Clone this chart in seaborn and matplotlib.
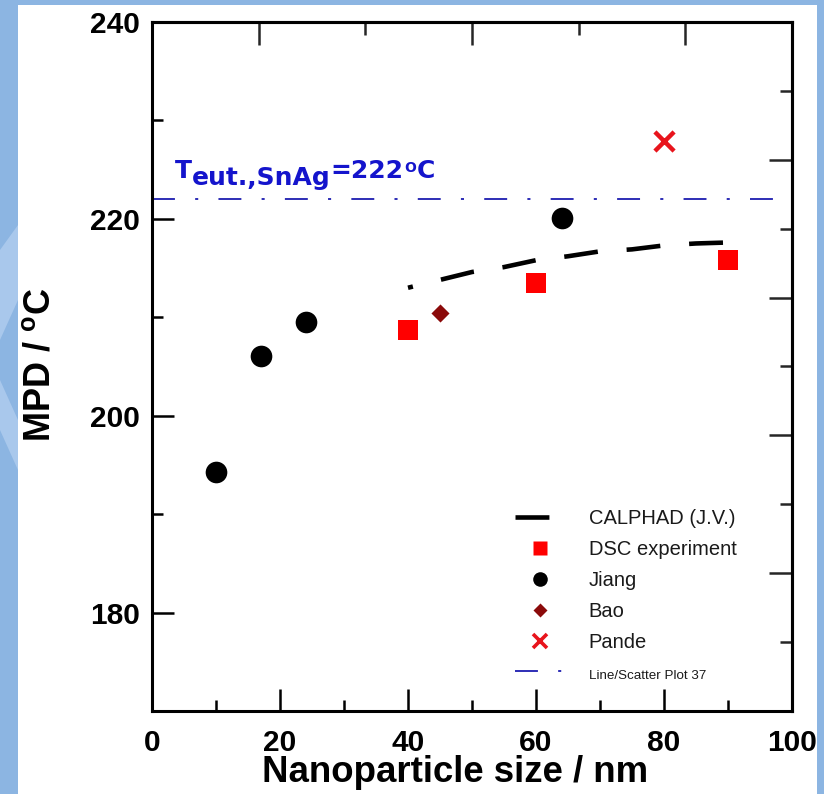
import matplotlib
matplotlib.use("Agg")
import matplotlib.pyplot as plt
import seaborn as sns
from matplotlib.lines import Line2D
from matplotlib.patches import Rectangle, Polygon
from matplotlib.ticker import FixedLocator

# CALPHAD model curve (J.V.)
calphad_size = [40, 45, 50, 55, 60, 65, 70, 75, 80, 85, 90]
calphad_mpd = [213.0, 213.8, 214.6, 215.1, 215.8, 216.2, 216.7, 216.9, 217.3, 217.5, 217.6]

# DSC experiment
dsc_size = [40, 60, 90]
dsc_mpd = [208.7, 213.5, 215.8]

# Jiang
jiang_size = [10, 17, 24, 64]
jiang_mpd = [194.3, 206.1, 209.5, 220.1]

# Bao
bao_size = [45]
bao_mpd = [210.4]

# Pande
pande_size = [80]
pande_mpd = [227.9]

# Eutectic temperature of SnAg
eutectic_size = [0, 100]
eutectic_mpd = [222, 222]

x_ticks = [0, 20, 40, 60, 80, 100]
y_ticks = [180, 200, 220, 240]

legend_labels = ["CALPHAD (J.V.)", "DSC experiment", "Jiang", "Bao", "Pande",
                 "Line/Scatter Plot 37"]

sns.set_theme(style="white")
plt.rcParams.update({
    "font.family": ["Liberation Sans", "DejaVu Sans"],
    "mathtext.fontset": "custom",
    "mathtext.rm": "Liberation Sans:bold",
    "mathtext.bf": "Liberation Sans:bold",
    "mathtext.it": "Liberation Sans:bold",
})

W, H = 824, 794
fig = plt.figure(figsize=(W / 100, H / 100), dpi=100, facecolor="#8cb5e2")

# white slide panel and soft highlights in the blue margin
fig.patches.append(Rectangle((18 / W, 0), (817 - 18) / W, (H - 5) / H,
                             transform=fig.transFigure, facecolor="white",
                             edgecolor="none", zorder=-10))
for pts in ([(0, 250), (18, 225), (18, 300), (0, 340)],
            [(0, 380), (18, 420), (18, 470), (0, 430)]):
    fig.patches.append(Polygon([(x / W, 1 - y / H) for x, y in pts], closed=True,
                               transform=fig.transFigure, facecolor="#a9c8ec",
                               edgecolor="none", zorder=-9))

ax = fig.add_axes([152 / W, 1 - 711 / H, 640 / W, 689 / H])
ax.set_facecolor("white")

black_dash = (6.3, (7.4, 6.3))
blue_dashdot = (0, (12.7, 11.2, 1.7, 11.2))
line_blue = "#1c1cb0"

sns.lineplot(x=eutectic_size, y=eutectic_mpd, ax=ax, color=line_blue, lw=1.3,
             linestyle=blue_dashdot, legend=False, zorder=2)
sns.lineplot(x=calphad_size, y=calphad_mpd, ax=ax, color="black", lw=3.3,
             linestyle=black_dash, legend=False, zorder=3)

sns.scatterplot(x=dsc_size, y=dsc_mpd, ax=ax, marker="s", s=225, color="#ff0000",
                linewidth=0, legend=False, zorder=4)
sns.scatterplot(x=jiang_size, y=jiang_mpd, ax=ax, marker="o", s=243, color="black",
                linewidth=0, legend=False, zorder=4)
sns.scatterplot(x=bao_size, y=bao_mpd, ax=ax, marker="D", s=85, color="#8b0a0a",
                linewidth=0, legend=False, zorder=4)
sns.scatterplot(x=pande_size, y=pande_mpd, ax=ax, marker="x", s=190, color="#e8141c",
                linewidth=3.2, legend=False, zorder=4)

ax.set_xlim(0, 100)
ax.set_ylim(170, 240)

# axes frame and ticks
for sp in ax.spines.values():
    sp.set_visible(True)
    sp.set_color("black")
    sp.set_linewidth(2.2)

tick_font = {"family": "Liberation Sans", "weight": "bold", "size": 21.5}
ax.set_xticks(x_ticks)
ax.set_xticklabels([str(v) for v in x_ticks], fontdict=tick_font)
ax.set_yticks(y_ticks)
ax.set_yticklabels([str(v) for v in y_ticks], fontdict=tick_font)
ax.xaxis.set_minor_locator(FixedLocator([10, 30, 50, 70, 90]))
ax.yaxis.set_minor_locator(FixedLocator([190, 210, 230]))
ax.tick_params(which="major", direction="in", length=16, width=1.8, color="black",
               top=False, right=False, bottom=True, left=True, labelcolor="black")
ax.tick_params(which="minor", direction="in", length=8, width=1.8, color="black",
               top=False, right=False, bottom=True, left=True)
ax.tick_params(axis="x", which="major", pad=13)
ax.tick_params(axis="y", which="major", pad=8.5)

top = ax.secondary_xaxis("top")
top.set_xticks([100 / 6, 50, 500 / 6])
top.xaxis.set_minor_locator(FixedLocator([100 / 3, 200 / 3]))
top.tick_params(which="major", direction="in", length=16.5, width=1.8, top=True,
                labeltop=False)
top.tick_params(which="minor", direction="in", length=9.4, width=1.8, top=True)
top.spines["top"].set_linewidth(2.2)
top.spines["top"].set_color("black")

right = ax.secondary_yaxis("right")
right.set_yticks([170, 184, 198, 212, 226, 240])
right.yaxis.set_minor_locator(FixedLocator([177, 191, 205, 219, 233]))
right.tick_params(which="major", direction="in", length=16.5, width=1.8, right=True,
                  labelright=False)
right.tick_params(which="minor", direction="in", length=8.6, width=1.8, right=True)
right.spines["right"].set_linewidth(2.2)
right.spines["right"].set_color("black")

# axis titles
ax.set_xlabel("Nanoparticle size / nm", fontsize=26.4, fontweight="bold",
              family="Liberation Sans", color="black")
ax.xaxis.set_label_coords(0.473, -0.064)
ax.set_ylabel(r"MPD / $^{\mathrm{o}}$C", fontsize=26, fontweight="bold",
              family="Liberation Sans", color="black")
ax.yaxis.label.set_verticalalignment("center")
ax.yaxis.set_label_coords(-0.175, 0.502)

# eutectic temperature annotation: T_eut.,SnAg = 222 oC
txt_blue = "#1414cc"
big = {"family": "DejaVu Sans", "weight": "bold", "size": 18, "color": txt_blue}
t0 = ax.text(3.6, 224.15, "T", va="baseline", ha="left", **big)
t1 = ax.annotate("eut.,SnAg", xy=(1, 0), xycoords=t0, xytext=(0, -5),
                 textcoords="offset points", va="bottom", ha="left", **big)
t2 = ax.annotate("=222", xy=(1, 0), xycoords=(t1, t0), va="bottom", ha="left", **big)
t3 = ax.annotate("O", xy=(1, 0), xycoords=(t2, t0), xytext=(0.5, 8.0),
                 textcoords="offset points", va="baseline", ha="left",
                 family="DejaVu Sans", weight="bold", size=10, color=txt_blue)
t4 = ax.annotate("C", xy=(1, 0), xycoords=(t3, t0), va="bottom", ha="left", **big)

# legend
handles = [
    Line2D([], [], color="black", lw=3.3, ls=(0, (7.4, 6.3))),
    Line2D([], [], ls="none", marker="s", ms=10, color="#ff0000", mec="none"),
    Line2D([], [], ls="none", marker="o", ms=10.5, color="black", mec="none"),
    Line2D([], [], ls="none", marker="D", ms=7, color="#8b0a0a", mec="none"),
    Line2D([], [], ls="none", marker="x", ms=10, mew=2.6, color="#e8141c"),
    Line2D([], [], color=line_blue, lw=1.3, ls=(0, (12.7, 11.2, 1.7, 11.2))),
]
leg = ax.legend(handles, legend_labels, loc="upper left",
                bbox_to_anchor=(515 / W, 1 - 509 / H), bbox_transform=fig.transFigure,
                frameon=False, prop={"family": "Liberation Sans", "size": 14.5},
                handlelength=2.5, handletextpad=1.15, labelspacing=0.6,
                borderpad=0, borderaxespad=0, numpoints=1)
for t in leg.get_texts():
    t.set_color("#1a1a1a")
leg.get_texts()[-1].set_fontsize(9.6)

fig.savefig("out.png", dpi=100, facecolor=fig.get_facecolor())
